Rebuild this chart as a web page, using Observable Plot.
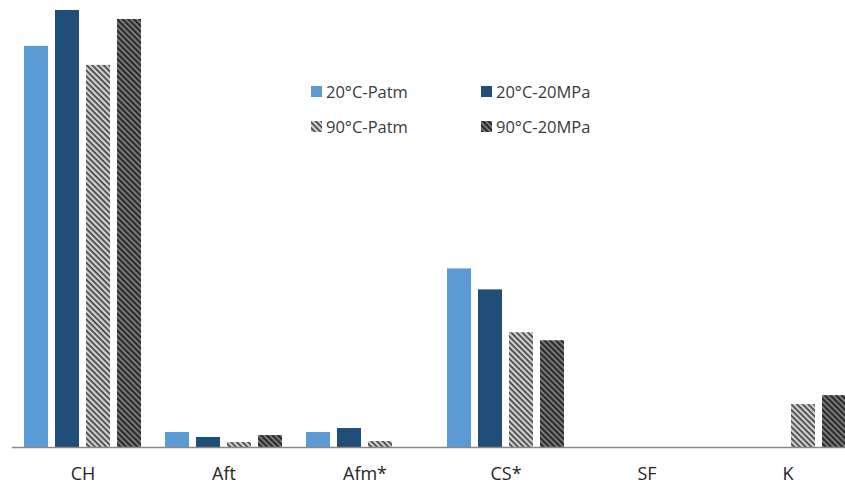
<!DOCTYPE html>
<html>
<head>
<meta charset="utf-8">
<script src="https://cdn.jsdelivr.net/npm/d3@7"></script>
<script src="https://cdn.jsdelivr.net/npm/@observablehq/plot@0.6"></script>
<style>
  html, body { margin: 0; padding: 0; background: #fff; }
  #wrap { position: relative; width: 845px; height: 490px; overflow: hidden; font-family: "Open Sans", "Noto Sans", sans-serif; }
  #legend { position: absolute; left: 0; top: 0; width: 845px; height: 490px; pointer-events: none; }
  .item { position: absolute; display: flex; align-items: center; font-size: 16.5px; color: #3a3a3a; white-space: nowrap; }
  .item svg { margin-right: 4px; }
</style>
</head>
<body>
<div id="wrap"><div id="chart"></div><div id="legend"></div></div>
<script>
const categories = ["CH", "Aft", "Afm*", "CS*", "SF", "K"];
const series = ["20°C-Patm", "20°C-20MPa", "90°C-Patm", "90°C-20MPa"];
const s20Patm   = [20.1, 0.75, 0.75, 8.95, 0, 0];
const s20MPa    = [21.9, 0.5, 0.95, 7.9, 0, 0];
const s90Patm   = [19.15, 0.25, 0.3, 5.75, 0, 2.15];
const s90MPa    = [21.45, 0.6, 0, 5.35, 0, 2.6];
const seriesValues = [s20Patm, s20MPa, s90Patm, s90MPa];
const fills = ["#5b9bd5", "#1f4e79", "url(#hatchLight)", "url(#hatchDark)"];

const data = [];
categories.forEach((c, i) => {
  series.forEach((s, j) => data.push({cat: c, series: s, value: seriesValues[j][i]}));
});

const chart = Plot.plot({
  width: 845,
  height: 490,
  marginTop: 8,
  marginBottom: 43,
  marginLeft: 12,
  marginRight: -13,
  style: {fontFamily: "'Open Sans', 'Noto Sans', sans-serif", background: "#fff"},
  fx: {domain: categories, padding: 0, label: null},
  x: {domain: series, paddingInner: 0.226, paddingOuter: 0.387, axis: null},
  y: {domain: [0, 22], axis: null},
  color: {domain: series, range: fills},
  marks: [
    Plot.barY(data, {fx: "cat", x: "series", y: "value", fill: "series"}),
    Plot.ruleY([0], {stroke: "#898989", strokeWidth: 1.5}),
    Plot.axisFx({anchor: "bottom", tickSize: 0, tickPadding: 20, fontSize: 18, fill: "#262626", label: null})
  ]
});

const defs = d3.select(chart).insert("defs", ":first-child");
function addPattern(sel, id, bg, fg) {
  const p = sel.append("pattern").attr("id", id).attr("patternUnits", "userSpaceOnUse")
    .attr("width", 4).attr("height", 4).attr("patternTransform", "rotate(45)");
  p.append("rect").attr("width", 4).attr("height", 4).attr("fill", bg);
  p.append("rect").attr("width", 4).attr("height", 1.6).attr("fill", fg);
}
addPattern(defs, "hatchLight", "#d0d0d0", "#3a3a3a");
addPattern(defs, "hatchDark", "#2b2b2b", "#8a8a8a");
document.getElementById("chart").appendChild(chart);

// legend
const legend = document.getElementById("legend");
const pos = [[311, 91], [481, 91], [311, 126], [481, 126]];
series.forEach((s, j) => {
  const div = document.createElement("div");
  div.className = "item";
  div.style.left = pos[j][0] + "px";
  div.style.top = (pos[j][1] - 11) + "px";
  const sw = d3.create("svg").attr("width", 11).attr("height", 11);
  const d2 = sw.append("defs");
  if (j === 2) addPattern(d2, "lg2", "#d0d0d0", "#3a3a3a");
  if (j === 3) addPattern(d2, "lg3", "#2b2b2b", "#8a8a8a");
  sw.append("rect").attr("width", 11).attr("height", 11)
    .attr("fill", j < 2 ? fills[j] : `url(#lg${j})`);
  div.appendChild(sw.node());
  const t = document.createElement("span");
  t.textContent = s;
  div.appendChild(t);
  legend.appendChild(div);
});
</script>
</body>
</html>
